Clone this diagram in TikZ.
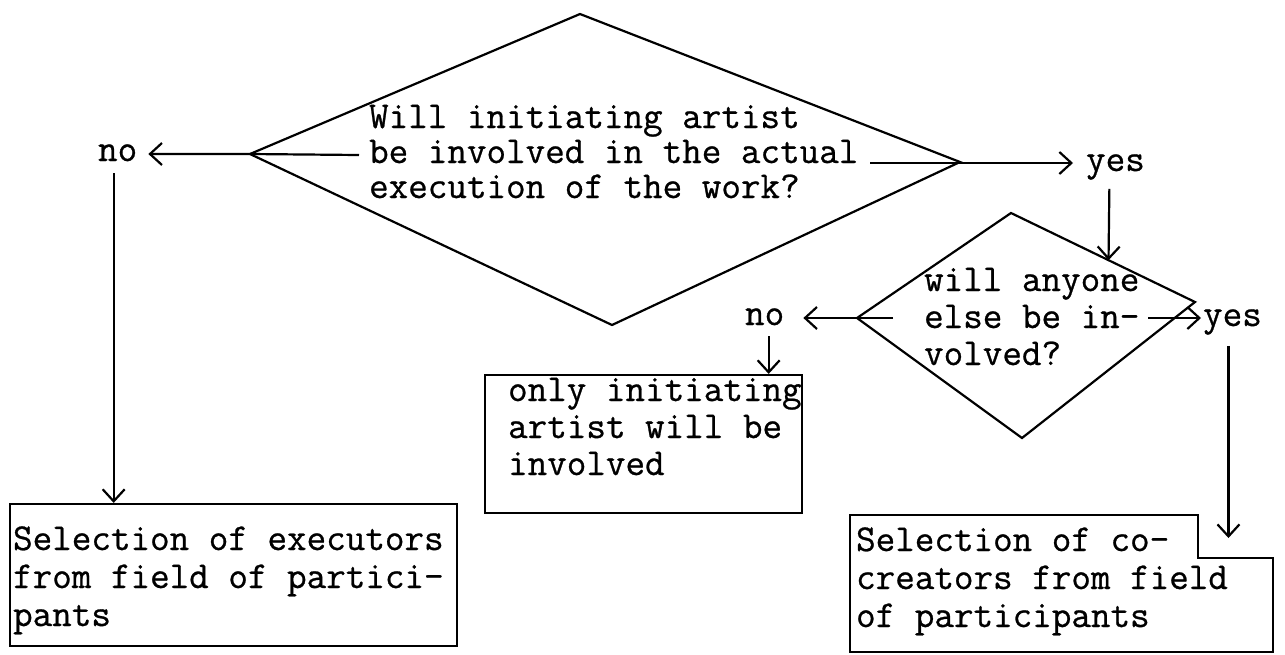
\documentclass[tikz,border=0pt]{standalone}
\usepackage{fontspec}
\setmonofont{Latin Modern Mono}[AutoFakeBold=0.7]
\usetikzlibrary{arrows.meta,fit}
\begin{document}
\begin{tikzpicture}[x=1pt,y=-1pt,line width=2.2pt,
  txt/.style={font=\fontsize{38}{37}\selectfont\ttfamily\bfseries,inner sep=0pt,anchor=base west,align=left},
  qtxt/.style={txt,font=\fontsize{38}{35}\selectfont\ttfamily\bfseries},
  btxt/.style={txt,font=\fontsize{38}{38}\selectfont\ttfamily\bfseries},
  arr/.style={-{Straight Barb[length=12pt,width=22pt]}},
  boxnode/.style={draw,inner sep=0pt}]
\useasboundingbox (0,0) rectangle (1285,654);
% big diamond
\coordinate (d1T) at (580,14);
\coordinate (d1R) at (960,162);
\coordinate (d1B) at (612,325);
\coordinate (d1L) at (250,154);
\draw (d1T) -- (d1R) -- (d1B) -- (d1L) -- cycle;
% small diamond
\coordinate (d2T) at (1011,213);
\coordinate (d2R) at (1195,302);
\coordinate (d2B) at (1022,438);
\coordinate (d2L) at (857,318);
\draw (d2T) -- (d2R) -- (d2B) -- (d2L) -- cycle;
\path (d2T) -- (d2R) coordinate[pos=0.53] (d2e);
% texts (anchor = baseline of last line)
\node[qtxt] (q1) at (368,198) {Will initiating artist\\be involved in the actual\\execution of the work?};
\node[txt] (no1) at (97,161) {no};
\node[txt] (yes1) at (1085,171) {yes};
\node[txt] (q2) at (923,365) {will anyone\\else be in-\\volved?};
\node[txt] (no2) at (744,325) {no};
\node[txt] (yes2) at (1202,326) {yes};
\node[txt] (tonly) at (507,475) {only initiating\\artist will be\\involved};
\node[btxt] (texec) at (12,626) {Selection of executors\\from field of partici-\\pants};
\node[btxt] (tco) at (855,627) {Selection of co-\\creators from field\\of participants};
% boxes
\node[boxnode,fit={(10,504) (457,646)}] (bexec) {};
\node[boxnode,fit={(485,375) (802,513)}] (bonly) {};
\coordinate (c1) at (850,515);
\coordinate (c2) at (1198,515);
\coordinate (c3) at (1198,558);
\coordinate (c4) at (1273,558);
\coordinate (c5) at (1273,652);
\coordinate (c6) at (850,652);
\draw (c1) -- (c2) -- (c3) -- (c4) -- (c5) -- (c6) -- cycle;
% connectors
\coordinate (q1a) at (359,155);
\coordinate (q1b) at (870,163);
\coordinate (q2a) at (893,318);
\coordinate (q2b) at (1148,318);
\coordinate (coTop) at (1232,538);
\draw[arr,shorten >=10pt] (q1a) -- (d1L) -- (no1.east |- d1L);
\draw[arr,shorten >=12pt] (q1b) -- (yes1.west |- q1b);
\draw[arr,shorten <=8pt] ([xshift=-6pt]yes1.south) -- (d2e);
\draw[arr,shorten >=18pt] (q2a) -- (no2.east |- q2a);
\draw[arr,shorten >=1pt] (q2b) -- (yes2.west |- q2b);
\draw[arr,shorten <=10pt] ([xshift=4pt]no2.south) -- ([xshift=4pt]no2.south |- bonly.north);
\draw[arr,shorten <=10pt] ([xshift=-4pt]yes2.south) -- ([xshift=-4pt]yes2.south |- coTop);
\draw[arr,shorten <=11pt] ([xshift=-4pt]no1.south) -- ([xshift=-4pt]no1.south |- bexec.north);
\end{tikzpicture}
\end{document}
